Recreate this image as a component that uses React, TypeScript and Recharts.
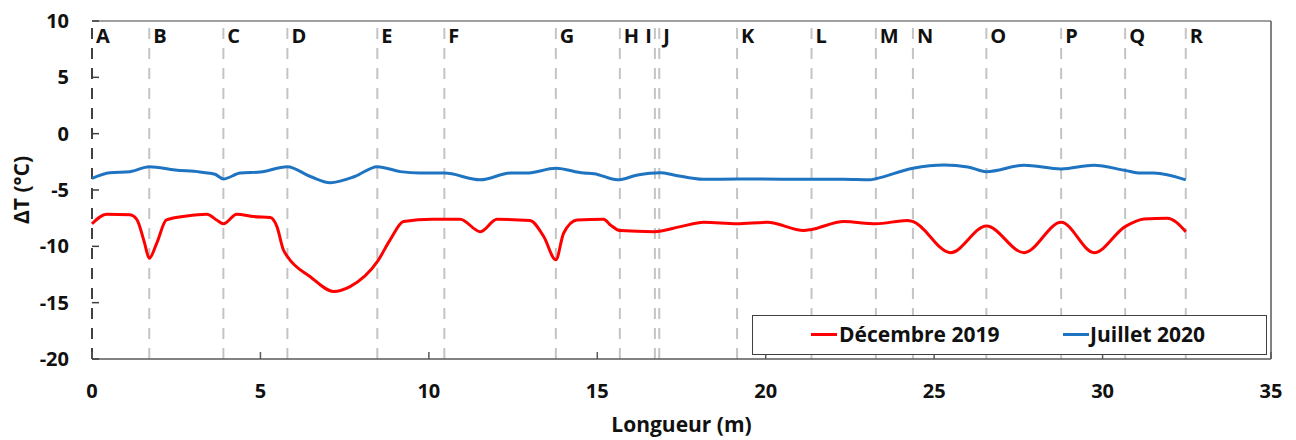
import React from 'react';
import { LineChart, Line, XAxis, YAxis, ReferenceLine, Legend } from 'recharts';

// Décembre 2019 (red) profile
const decLength = [0, 0.44, 1.13, 1.33, 1.55, 1.7, 1.92, 2.21, 2.81, 3.41, 3.7, 3.9, 4.3, 4.8, 5.29, 5.49, 5.68, 5.8, 6.48, 7.17, 7.66, 8.47, 8.85, 9.25, 10.1, 10.46, 10.93, 11.53, 12.02, 13.0, 13.41, 13.77, 14.0, 14.4, 15.19, 15.39, 15.67, 16.68, 17.47, 18.16, 19.15, 20.04, 21.13, 21.36, 22.32, 23.27, 24.2, 24.37, 25.49, 26.55, 27.67, 28.77, 29.75, 30.67, 31.23, 31.92, 32.47];
const decTemp = [-8.0, -7.15, -7.2, -7.6, -9.6, -11.06, -9.73, -7.66, -7.3, -7.15, -7.66, -8.0, -7.15, -7.36, -7.45, -8.25, -10.3, -10.9, -12.7, -14.0, -13.57, -11.36, -9.43, -7.8, -7.6, -7.6, -7.6, -8.7, -7.6, -7.7, -9.13, -11.2, -8.84, -7.66, -7.6, -8.1, -8.6, -8.7, -8.25, -7.87, -8.0, -7.87, -8.6, -8.5, -7.8, -8.0, -7.7, -7.8, -10.56, -8.2, -10.56, -7.87, -10.56, -8.25, -7.57, -7.5, -8.7];

// Juillet 2020 (blue) profile
const julLength = [0, 0.53, 1.13, 1.7, 2.47, 3.2, 3.65, 3.9, 4.4, 5.0, 5.8, 6.48, 7.07, 7.8, 8.47, 9.15, 9.74, 10.46, 11.53, 12.42, 12.9, 13.77, 14.6, 14.9, 15.6, 16.2, 16.88, 17.27, 18.15, 19.2, 21.36, 22.3, 23.1, 23.27, 24.37, 25.3, 26.0, 26.55, 27.67, 28.77, 29.74, 30.67, 31.13, 31.52, 32.47];
const julTemp = [-3.96, -3.46, -3.37, -2.93, -3.22, -3.4, -3.6, -4.02, -3.5, -3.4, -2.93, -3.8, -4.35, -3.8, -2.93, -3.37, -3.5, -3.5, -4.1, -3.5, -3.5, -3.07, -3.5, -3.55, -4.1, -3.66, -3.46, -3.66, -4.05, -4.02, -4.05, -4.05, -4.1, -4.0, -3.07, -2.78, -2.95, -3.37, -2.8, -3.13, -2.8, -3.26, -3.5, -3.5, -4.1];

const markerLetters = ['A', 'B', 'C', 'D', 'E', 'F', 'G', 'H', 'I', 'J', 'K', 'L', 'M', 'N', 'O', 'P', 'Q', 'R'];
const markerPositions = [0, 1.7, 3.9, 5.8, 8.47, 10.46, 13.77, 15.67, 16.71, 16.84, 19.15, 21.36, 23.27, 24.37, 26.55, 28.77, 30.67, 32.47];

const xTicks = [0, 5, 10, 15, 20, 25, 30, 35];
const yTicks = [-20, -15, -10, -5, 0, 5, 10];

const decData = decLength.map((x, i) => ({ x, v: decTemp[i] }));
const julData = julLength.map((x, i) => ({ x, v: julTemp[i] }));

const FONT = '"Open Sans", Lato, sans-serif';
const INK = '#111111';
const RED = '#ff0000';
const BLUE = '#1f74c2';

// "I" sits on the left of its line, every other letter on the right
const letterLabel = (letter: string) => (props: any) => {
  const { viewBox } = props;
  const left = letter === 'I';
  return (
    <text x={left ? viewBox.x - 3 : viewBox.x + 4} y={viewBox.y + 22} textAnchor={left ? 'end' : 'start'}
      fill={INK} fontFamily={FONT} fontWeight={700} fontSize={20}>
      {letter}
    </text>
  );
};

const YTitle = (props: any) => {
  const { viewBox } = props;
  const cx = 21;
  const cy = viewBox.y + viewBox.height / 2;
  return (
    <text x={cx} y={cy} transform={`rotate(-90 ${cx} ${cy})`} textAnchor="middle" dominantBaseline="central"
      fill={INK} fontFamily={FONT} fontWeight={700} fontSize={21}>
      ΔT (°C)
    </text>
  );
};

const XTitle = (props: any) => {
  const { viewBox } = props;
  return (
    <text x={viewBox.x + viewBox.width / 2} y={432} textAnchor="middle"
      fill={INK} fontFamily={FONT} fontWeight={700} fontSize={21}>
      Longueur (m)
    </text>
  );
};

const LegendBox = () => (
  <div style={{
    position: 'relative', width: 515, height: 40, boxSizing: 'border-box', border: '1.5px solid #404040',
    background: '#fff', fontFamily: FONT, fontWeight: 700, fontSize: 21, color: INK,
  }}>
    <div style={{ position: 'absolute', left: 58, top: 17, width: 26, height: 3, background: RED }} />
    <span style={{ position: 'absolute', left: 86, top: 4, lineHeight: '28px' }}>Décembre 2019</span>
    <div style={{ position: 'absolute', left: 310, top: 17, width: 26, height: 3, background: BLUE }} />
    <span style={{ position: 'absolute', left: 337, top: 4, lineHeight: '28px' }}>Juillet 2020</span>
  </div>
);

export default function App() {
  return (
    <div style={{ position: 'absolute', left: 0, top: 0, width: 1296, height: 440, background: '#fff' }}>
      <LineChart width={1296} height={440} margin={{ top: 21, right: 25, bottom: 41, left: 0 }}>
        <XAxis
          type="number"
          dataKey="x"
          domain={[0, 35]}
          ticks={xTicks}
          allowDuplicatedCategory={false}
          height={40}
          axisLine={{ stroke: '#595959', strokeWidth: 1.5 }}
          tickLine={{ stroke: '#595959', strokeWidth: 1.5 }}
          tickSize={-7}
          tickMargin={32}
          tick={{ fill: INK, fontFamily: FONT, fontWeight: 700, fontSize: 20 }}
          label={<XTitle />}
        />
        <YAxis
          type="number"
          domain={[-20, 10]}
          ticks={yTicks}
          width={92}
          axisLine={false}
          tickLine={{ stroke: '#404040', strokeWidth: 1.5 }}
          tickSize={-7}
          tickMargin={30}
          tick={{ fill: INK, fontFamily: FONT, fontWeight: 700, fontSize: 20 }}
          label={<YTitle />}
        />
        <ReferenceLine y={10} stroke="#808080" strokeWidth={1.5} />
        <ReferenceLine x={35} stroke="#595959" strokeWidth={1.5} />
        {markerPositions.map((pos, i) => (
          <ReferenceLine
            key={markerLetters[i]}
            x={pos}
            stroke={i === 0 ? '#404040' : '#c4c4c4'}
            strokeWidth={2}
            strokeDasharray="11 9"
            label={letterLabel(markerLetters[i])}
          />
        ))}
        <Line data={decData} dataKey="v" name="Décembre 2019" type="monotone" stroke={RED} strokeWidth={3}
          dot={false} isAnimationActive={false} />
        <Line data={julData} dataKey="v" name="Juillet 2020" type="monotone" stroke={BLUE} strokeWidth={3}
          dot={false} isAnimationActive={false} />
        <Legend
          layout="vertical"
          align="center"
          verticalAlign="middle"
          content={<LegendBox />}
          wrapperStyle={{ left: 752, top: 315, width: 515, height: 40 }}
        />
      </LineChart>
    </div>
  );
}
